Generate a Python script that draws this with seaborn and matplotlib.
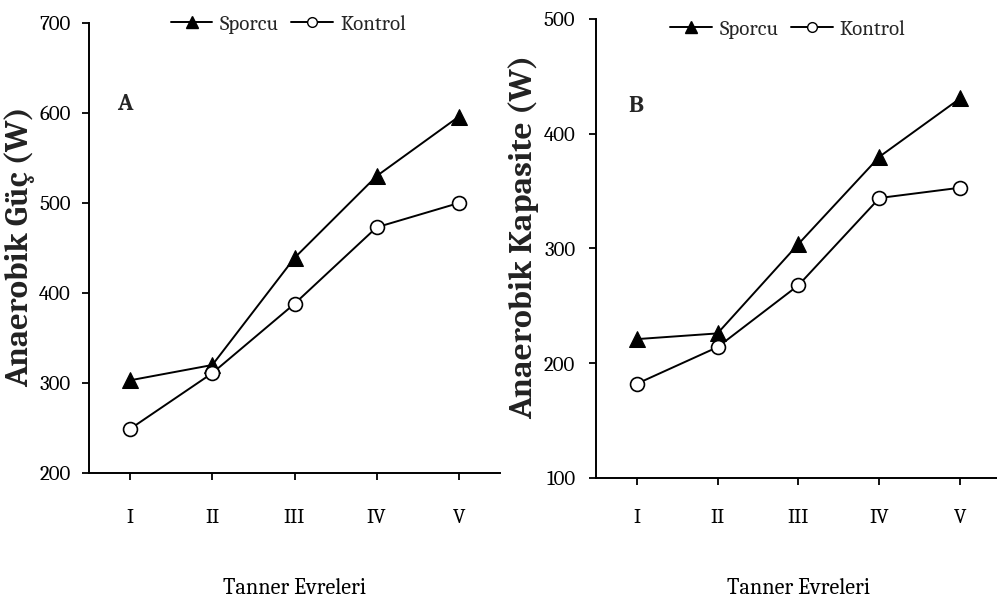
import matplotlib
matplotlib.use("Agg")
import matplotlib.pyplot as plt
from matplotlib.lines import Line2D
import pandas as pd
import seaborn as sns

# ---- data ----
stages = ["I", "II", "III", "IV", "V"]
groups = ["Sporcu", "Kontrol"]
power_sporcu = [303, 320, 439, 530, 596]
power_kontrol = [249, 311, 388, 473, 500]
capacity_sporcu = [221, 226, 304, 380, 431]
capacity_kontrol = [182, 214, 268, 344, 353]
ylabel_a = "Anaerobik Güç (W)"
ylabel_b = "Anaerobik Kapasite (W)"
xlabel = "Tanner Evreleri"
yticks_a = [200, 300, 400, 500, 600, 700]
yticks_b = [100, 200, 300, 400, 500]

sns.set_style("ticks")
plt.rcParams["font.family"] = ["Caladea", "DejaVu Serif"]

fig = plt.figure(figsize=(9.97, 6.10), dpi=100)
axA = fig.add_axes([0.0893, 0.2246, 0.4122, 0.7377])
axB = fig.add_axes([0.5978, 0.2164, 0.4062, 0.7525])

styles = {
    "Sporcu": dict(marker="^", markersize=11, markerfacecolor="black", markeredgecolor="black"),
    "Kontrol": dict(marker="o", markersize=10, markerfacecolor="white", markeredgecolor="black",
                    markeredgewidth=1.2),
}
legend_styles = {
    "Sporcu": dict(marker="^", markersize=9, markerfacecolor="black", markeredgecolor="black"),
    "Kontrol": dict(marker="o", markersize=7, markerfacecolor="white", markeredgecolor="black",
                    markeredgewidth=1.0),
}

def draw(ax, sporcu, kontrol, ylabel, yticks, letter, lx, ly, xtpad, ytpad,
         ylab_pos, ylab_size, xlab_y, leg_pos):
    df = pd.DataFrame({
        "Evre": stages * 2,
        "Değer": sporcu + kontrol,
        "Grup": [groups[0]] * len(stages) + [groups[1]] * len(stages),
    })
    for g in groups:
        sub = df[df["Grup"] == g]
        sns.lineplot(data=sub, x="Evre", y="Değer", ax=ax, color="black", lw=1.4,
                     sort=False, legend=False, **styles[g])
    ax.set_xlim(-0.5, 4.5)
    ax.set_ylim(yticks[0], yticks[-1])
    ax.set_yticks(yticks)
    ax.set_xticks(range(len(stages)))
    ax.set_xticklabels(stages)
    for s in ["top", "right"]:
        ax.spines[s].set_visible(False)
    for s in ["left", "bottom"]:
        ax.spines[s].set_linewidth(1.4)
        ax.spines[s].set_color("black")
    ax.tick_params(axis="both", direction="out", length=5, width=1.3, colors="black",
                   labelsize=15)
    ax.tick_params(axis="x", pad=xtpad)
    ax.tick_params(axis="y", pad=ytpad)
    ax.set_ylabel(ylabel, fontsize=ylab_size, fontweight="bold", color="#222222")
    ax.yaxis.set_label_coords(*ylab_pos)
    ax.set_xlabel(xlabel, fontsize=16, color="black")
    ax.xaxis.set_label_coords(0.5, xlab_y)
    ax.text(lx, ly, letter, transform=ax.transAxes, fontsize=17, fontweight="bold",
            ha="center", va="center")
    handles = [Line2D([], [], color="black", lw=1.4, **legend_styles[g]) for g in groups]
    ax.legend(handles, groups, loc="center", bbox_to_anchor=leg_pos, ncol=2,
              frameon=False, fontsize=15, handlelength=2.0, handletextpad=0.35,
              columnspacing=0.6, borderpad=0)

draw(axA, power_sporcu, power_kontrol, ylabel_a, yticks_a, "A", 0.087, 0.82,
     20, 8, (-0.130, 0.503), 23.5, -0.233, (0.485, 0.997))
draw(axB, capacity_sporcu, capacity_kontrol, ylabel_b, yticks_b, "B", 0.099, 0.81,
     17, 10, (-0.140, 0.526), 24, -0.218, (0.474, 0.978))

fig.savefig("out.png", dpi=100)
